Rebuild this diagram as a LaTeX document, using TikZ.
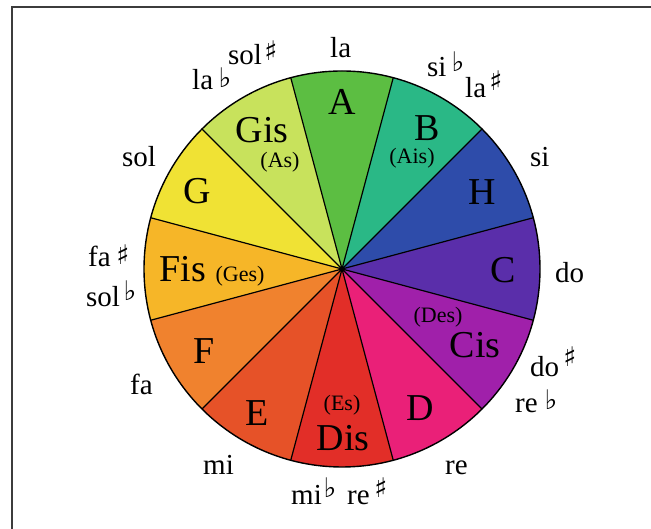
\documentclass[tikz,border=0pt]{standalone}
\usepackage{fontspec}
\setmainfont{Liberation Serif}
\newfontfamily\symf{DejaVu Sans}
\definecolor{cA}{RGB}{92,190,66}
\definecolor{cB}{RGB}{42,184,134}
\definecolor{cH}{RGB}{46,76,170}
\definecolor{cC}{RGB}{90,46,170}
\definecolor{cCis}{RGB}{160,32,170}
\definecolor{cD}{RGB}{234,32,120}
\definecolor{cDis}{RGB}{226,46,40}
\definecolor{cE}{RGB}{230,82,40}
\definecolor{cF}{RGB}{240,130,46}
\definecolor{cFis}{RGB}{246,182,40}
\definecolor{cG}{RGB}{240,226,52}
\definecolor{cGis}{RGB}{200,226,92}
\definecolor{frame}{RGB}{60,60,60}
\begin{document}
\begin{tikzpicture}[x=1pt,y=1pt,
  outer/.style={font=\fontsize{29}{29}\selectfont, inner sep=0pt, anchor=base west},
  sym/.style={font=\fontsize{27}{27}\symf, inner sep=0pt},
  big/.style={font=\fontsize{38}{38}\selectfont, inner sep=0pt},
  small/.style={font=\fontsize{22}{22}\selectfont, inner sep=0pt}]
\useasboundingbox (0,0) rectangle (651,529);
\fill[white] (0,0) rectangle (651,529);
\draw[frame, line width=2pt] (11.5,0) -- (11.5,521.5) -- (651,521.5);
\coordinate (O) at (342,260);
\foreach \a/\c in {90/cA,120/cGis,150/cG,180/cFis,210/cF,240/cE,270/cDis,300/cD,330/cCis,0/cC,30/cH,60/cB}
  \fill[\c] (O) -- ++({\a-15}:198) arc[start angle={\a-15}, end angle={\a+15}, radius=198] -- cycle;
\foreach \a in {15,45,...,345}
  \draw[line width=1.2pt] (O) -- ++(\a:198);
\draw[line width=1.4pt] (O) circle[radius=198];
\fill (O) circle[radius=3];
% wedge labels
\node[big] (nA) at (342,427) {A};
\node[big] (nGis) at (262,399) {Gis};
\node[small] (nAs) at (280,367) {(As)};
\node[big] (nB) at (427,401) {B};
\node[small] (nAis) at (412,371) {(Ais)};
\node[big] (nG) at (197,338) {G};
\node[big] (nH) at (482,337) {H};
\node[big] (nFis) at (183,260) {Fis};
\node[small] (nGes) at (240,253) {(Ges)};
\node[big] (nC) at (503,259) {C};
\node[big] (nF) at (204,178) {F};
\node[small] (nDes) at (438,212) {(Des)};
\node[big] (nCis) at (475,184) {Cis};
\node[big] (nE) at (257,116) {E};
\node[small] (nEs) at (342,124) {(Es)};
\node[big] (nDis) at (343,91) {Dis};
\node[big] (nD) at (420,121) {D};
% outer labels
\node[outer] (la) at (330,471) {la};
\node[outer] (solS) at (228,464) {sol};
\node[sym] (solSs) at (271,478) {♯};
\node[outer] (laF) at (192,439) {la};
\node[sym] (laFs) at (225,451) {♭};
\node[outer] (siF) at (427,452) {si};
\node[sym] (siFs) at (458,467) {♭};
\node[outer] (laS) at (465,431) {la};
\node[sym] (laSs) at (496,448) {♯};
\node[outer] (sol) at (122,362) {sol};
\node[outer] (si) at (530,362) {si};
\node[outer] (faS) at (88,262) {fa};
\node[sym] (faSs) at (123,274) {♯};
\node[outer] (solF) at (86,222) {sol};
\node[sym] (solFs) at (130,238) {♭};
\node[outer] (do) at (555,246) {do};
\node[outer] (fa) at (130,134) {fa};
\node[outer] (doS) at (530,152) {do};
\node[sym] (doSs) at (570,172) {♯};
\node[outer] (reF) at (515,116) {re};
\node[sym] (reFs) at (551,129) {♭};
\node[outer] (mi) at (203,54) {mi};
\node[outer] (re) at (445,54) {re};
\node[outer] (miF) at (291,24) {mi};
\node[sym] (miFs) at (330,41) {♭};
\node[outer] (reS) at (347,24) {re};
\node[sym] (reSs) at (381,41) {♯};
\end{tikzpicture}
\end{document}
